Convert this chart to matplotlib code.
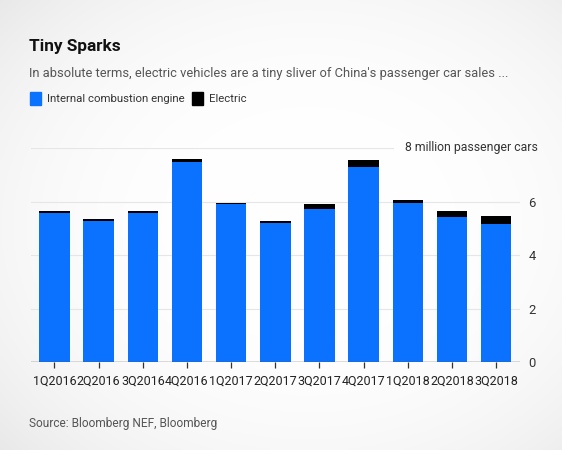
import numpy as np
import matplotlib
matplotlib.use("Agg")
import matplotlib.pyplot as plt

quarters = ["1Q2016", "2Q2016", "3Q2016", "4Q2016", "1Q2017", "2Q2017",
            "3Q2017", "4Q2017", "1Q2018", "2Q2018", "3Q2018"]
ice = [5.59, 5.27, 5.57, 7.47, 5.92, 5.20, 5.73, 7.30, 5.94, 5.44, 5.15]
electric = [0.06, 0.08, 0.09, 0.12, 0.04, 0.08, 0.17, 0.25, 0.12, 0.22, 0.30]
yticks = [0, 2, 4, 6]

BLUE = "#0a72ff"
W, H = 562, 450
plt.rcParams['font.family'] = ['Roboto', 'DejaVu Sans']

fig = plt.figure(figsize=(W / 100, H / 100), dpi=100)

# soft vignette background
yy, xx = np.mgrid[0:1:200j, 0:1:250j]
r = np.sqrt(((xx - 0.55) / 0.75) ** 2 + ((yy - 0.5) / 0.75) ** 2)
shade = 1 - 0.09 * np.clip(r, 0, 1) ** 3
bg = fig.add_axes([0, 0, 1, 1], zorder=-10)
bg.imshow(np.dstack([shade, shade, shade]), aspect='auto', extent=[0, 1, 0, 1])
bg.axis('off')

def px(x, y):
    return x / W, 1 - y / H

left, right = 31, 520
y0, y8 = 362.3, 148
ax = fig.add_axes([left / W, (H - y0) / H, (right - left) / W, (y0 - y8) / H])
ax.set_facecolor('none')

x = np.arange(len(quarters))
ax.bar(x, ice, width=0.69, color=BLUE, zorder=3)
ax.bar(x, electric, bottom=ice, width=0.69, color='black', zorder=3)

ax.set_xlim(-0.53, 10.54)
ax.set_ylim(0, 8)

for v in [2, 4, 6]:
    ax.axhline(v, color='#e6e6e6', lw=0.8, zorder=1)
ax.axhline(8, xmin=0, xmax=0.74, color='#e6e6e6', lw=0.8, zorder=1)
ax.axhline(0, color='#555555', lw=1.0, zorder=4)

for s in ax.spines.values():
    s.set_visible(False)

ax.set_xticks(x)
ax.set_xticklabels(quarters)
ax.tick_params(axis='x', length=4, width=0.9, color='#333333', pad=5,
               labelsize=9.0, labelcolor='#222222')
ax.yaxis.tick_right()
ax.set_yticks(yticks)
ax.set_yticklabels([str(v) for v in yticks])
ax.tick_params(axis='y', length=0, pad=6, labelsize=9.4, labelcolor='#333333')

fig.text(*px(538, 148), "8 million passenger cars", ha='right', va='center',
         fontsize=8.8, color='#333333')

fig.text(*px(29, 47), "Tiny Sparks", ha='left', va='center', fontsize=12.4,
         fontweight='bold', color='#111111')
fig.text(*px(29, 73), "In absolute terms, electric vehicles are a tiny sliver of China's passenger car sales ...",
         ha='left', va='center', fontsize=9.3, color='#555555')

fig.patches.append(plt.Rectangle(px(30, 105), 11 / W, 13 / H, transform=fig.transFigure,
                                 color=BLUE, figure=fig))
fig.text(*px(47, 99), "Internal combustion engine", ha='left', va='center',
         fontsize=8.2, color='#333333')
fig.patches.append(plt.Rectangle(px(192, 105), 11 / W, 13 / H, transform=fig.transFigure,
                                 color='black', figure=fig))
fig.text(*px(209, 99), "Electric", ha='left', va='center', fontsize=8.2, color='#333333')

fig.text(*px(29, 423), "Source: Bloomberg NEF, Bloomberg", ha='left', va='center',
         fontsize=8.6, color='#555555')

fig.savefig("out.png", dpi=100)
